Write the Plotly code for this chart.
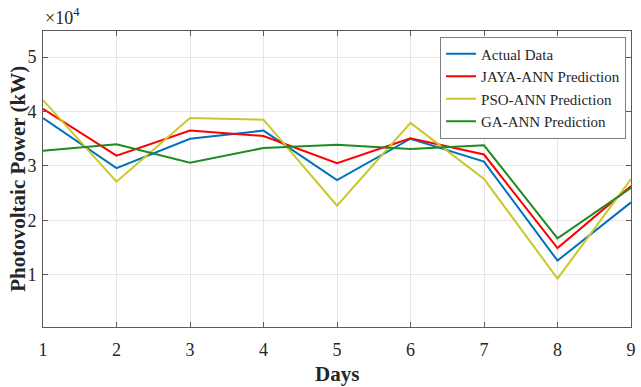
import plotly.graph_objects as go

days = [1, 2, 3, 4, 5, 6, 7, 8, 9]
actual = [38800, 29600, 35000, 36500, 27400, 35000, 30800, 12600, 23300]
jaya = [40500, 31900, 36500, 35500, 30500, 35100, 32100, 14900, 26300]
pso = [42100, 27100, 38800, 38500, 22700, 37900, 27600, 9300, 27600]
ga = [32800, 34000, 30600, 33300, 33900, 33100, 33800, 16700, 26000]

names = ["Actual Data", "JAYA-ANN Prediction", "PSO-ANN Prediction", "GA-ANN Prediction"]
colors = ["#0072BD", "#FF0000", "#C8C829", "#1F8B1F"]
series = [actual, jaya, pso, ga]

FONT = "Liberation Serif"

fig = go.Figure()
for n, c, s in zip(names, colors, series):
    fig.add_trace(go.Scatter(x=days, y=s, mode="lines", name=n,
                             line=dict(color=c, width=2)))

L, R, T, B = 43, 5, 31, 60
W, H = 641, 387
pw = W - L - R
ph = H - T - B

def px(x):
    return (x - L) / pw

def py(y):
    return (H - B - y) / ph

fig.update_layout(
    width=W, height=H,
    margin=dict(l=L, r=R, t=T, b=B, pad=0),
    paper_bgcolor="white", plot_bgcolor="white",
    font=dict(family=FONT, color="#262626", size=18),
    showlegend=True,
    legend=dict(x=px(631), y=py(36.5), xanchor="right", yanchor="top",
                bgcolor="white", bordercolor="#7f7f7f", borderwidth=1,
                font=dict(family=FONT, size=15, color="#262626"),
                tracegroupgap=0),
    xaxis=dict(range=[1, 9], tickvals=days, ticktext=[str(d) for d in days],
               showgrid=True, gridcolor="#e6e6e6", gridwidth=1,
               showline=True, linecolor="#5a5a5a", linewidth=1, mirror="ticks",
               ticks="inside", ticklen=5, tickcolor="#5a5a5a",
               ticklabelstandoff=6, ticklabeloverflow="allow", zeroline=False,
               tickfont=dict(family=FONT, size=18, color="#262626")),
    yaxis=dict(range=[400, 54800], tickvals=[10000, 20000, 30000, 40000, 50000],
               ticktext=["1", "2", "3", "4", "5"],
               showgrid=True, gridcolor="#e6e6e6", gridwidth=1,
               showline=True, linecolor="#5a5a5a", linewidth=1, mirror="ticks",
               ticks="inside", ticklen=5, tickcolor="#5a5a5a",
               ticklabelstandoff=2, ticklabeloverflow="allow", zeroline=False,
               tickfont=dict(family=FONT, size=18, color="#262626")),
    annotations=[
        dict(text="<b>Photovoltaic Power (kW)</b>", xref="paper", yref="paper",
             x=px(17.5), y=0.5, xanchor="center", yanchor="middle",
             textangle=-90, showarrow=False,
             font=dict(family=FONT, size=21, color="#262626")),
        dict(text="<b>Days</b>", xref="paper", yref="paper",
             x=0.5, y=py(374), xanchor="center", yanchor="middle",
             showarrow=False,
             font=dict(family=FONT, size=21, color="#262626")),
        dict(text="×10<sup>4</sup>", xref="paper", yref="paper",
             x=px(43), y=py(17), xanchor="left", yanchor="middle",
             showarrow=False,
             font=dict(family=FONT, size=18, color="#262626")),
    ],
)

fig.write_html("out.html")
